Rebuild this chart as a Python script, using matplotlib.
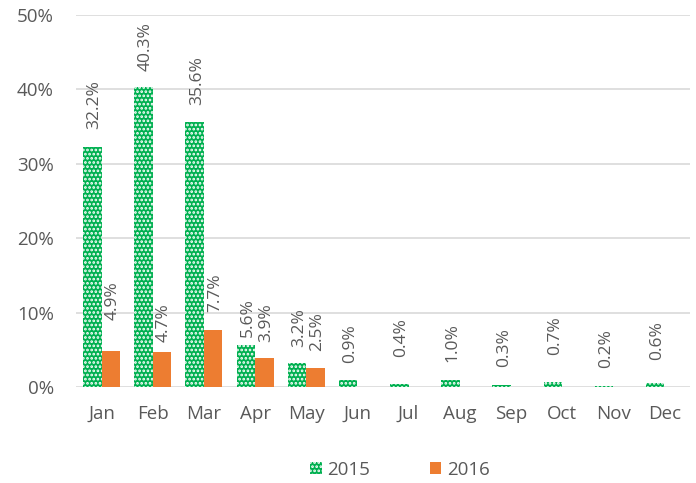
import matplotlib
matplotlib.use("Agg")
import matplotlib.pyplot as plt
import numpy as np

months = ["Jan", "Feb", "Mar", "Apr", "May", "Jun", "Jul", "Aug", "Sep", "Oct", "Nov", "Dec"]
values_2015 = [32.2, 40.3, 35.6, 5.6, 3.2, 0.9, 0.4, 1.0, 0.3, 0.7, 0.2, 0.6]
values_2016 = [4.9, 4.7, 7.7, 3.9, 2.5, None, None, None, None, None, None, None]
series_names = ["2015", "2016"]
y_ticks = [0, 10, 20, 30, 40, 50]

# label gap above bar (pixels), styling only
gap_2015 = [18, 16, 17, 8, 16, 17, 27, 18, 18, 27, 18, 23]
gap_2016 = [31, 10, 18, 16, 17]

plt.rcParams['font.family'] = ['Open Sans', 'DejaVu Sans']
plt.rcParams['hatch.linewidth'] = 1.3

TXT = "#595959"
GREEN = "#00b050"
ORANGE = "#ed7d31"

fig = plt.figure(figsize=(6.96, 4.83), dpi=100)
ax = fig.add_axes([76/696, (483-387)/483, (690-76)/696, (387-15)/483])

x = np.arange(len(months))
w = 0.36
v16 = np.array([np.nan if v is None else v for v in values_2016], dtype=float)

b1 = ax.bar(x - w/2, values_2015, w, color=GREEN, edgecolor="white", linewidth=0,
            hatch="....", label=series_names[0], zorder=3)
b2 = ax.bar(x + w/2, v16, w, color=ORANGE, linewidth=0, label=series_names[1], zorder=3)

px2pt = 0.72
for i, v in enumerate(values_2015):
    ax.annotate(f"{v:.1f}%", (x[i] - w/2, v), xytext=(1.5, gap_2015[i]*px2pt),
                textcoords="offset points", rotation=90, ha="center", va="bottom",
                fontsize=12.5, color=TXT, zorder=4)
for i, v in enumerate(values_2016):
    if v is None:
        continue
    ax.annotate(f"{v:.1f}%", (x[i] + w/2, v), xytext=(1.5, gap_2016[i]*px2pt),
                textcoords="offset points", rotation=90, ha="center", va="bottom",
                fontsize=12.5, color=TXT, zorder=4)

ax.set_xlim(-0.5, len(months) - 0.5)
ax.set_ylim(0, 50)
ax.set_yticks(y_ticks)
ax.set_yticklabels([f"{t}%" for t in y_ticks])
ax.set_xticks(x)
ax.set_xticklabels(months)
ax.yaxis.grid(True, color="#d9d9d9", linewidth=1.2, zorder=0)
ax.set_axisbelow(True)
for s in ax.spines.values():
    s.set_visible(False)
ax.tick_params(axis="both", length=0, labelsize=13.5, colors=TXT)
ax.tick_params(axis="y", pad=16)
ax.tick_params(axis="x", pad=13)

leg = fig.legend(handles=[b1, b2], labels=series_names, loc="center",
                 bbox_to_anchor=(400/696, 1 - 470/483), ncol=2, frameon=False,
                 fontsize=13.5, handlelength=0.6, handleheight=0.6,
                 columnspacing=3.2, handletextpad=0.3, labelcolor=TXT)

fig.savefig("out.png", dpi=100)
